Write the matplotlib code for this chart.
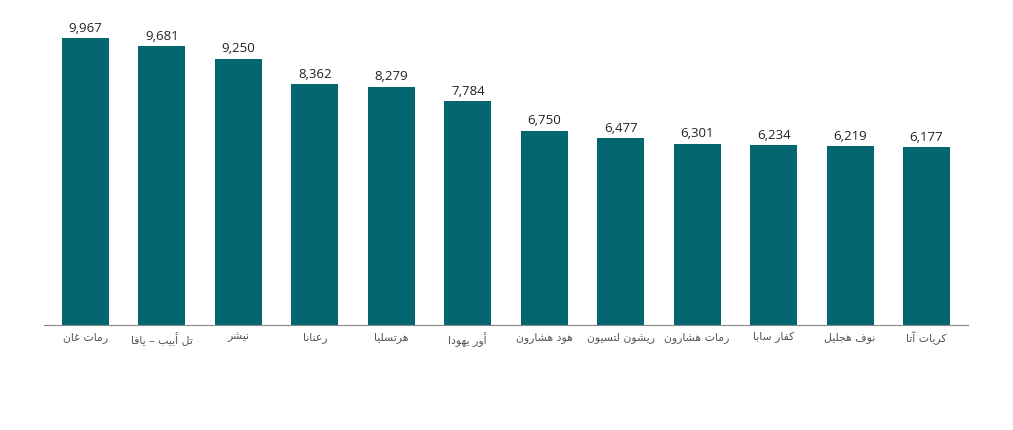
import matplotlib
matplotlib.use("Agg")
import matplotlib.pyplot as plt

# city names (logical order, Arabic)
cities = ["رمات غان", "تل أبيب – يافا", "نيشر", "رعنانا", "هرتسليا", "أور يهودا",
          "هود هشارون", "ريشون لتسيون", "رمات هشارون", "كفار سابا", "نوف هجليل", "كريات آتا"]
values = [9967, 9681, 9250, 8362, 8279, 7784, 6750, 6477, 6301, 6234, 6219, 6177]

# presentation forms: isolated, final, initial, medial (None = right-joining only)
FORMS = {
    "ا": (0xFE8D, 0xFE8E, None, None), "أ": (0xFE83, 0xFE84, None, None),
    "آ": (0xFE81, 0xFE82, None, None), "ب": (0xFE8F, 0xFE90, 0xFE91, 0xFE92),
    "ة": (0xFE93, 0xFE94, None, None), "ت": (0xFE95, 0xFE96, 0xFE97, 0xFE98),
    "ث": (0xFE99, 0xFE9A, 0xFE9B, 0xFE9C), "ج": (0xFE9D, 0xFE9E, 0xFE9F, 0xFEA0),
    "ح": (0xFEA1, 0xFEA2, 0xFEA3, 0xFEA4), "خ": (0xFEA5, 0xFEA6, 0xFEA7, 0xFEA8),
    "د": (0xFEA9, 0xFEAA, None, None), "ذ": (0xFEAB, 0xFEAC, None, None),
    "ر": (0xFEAD, 0xFEAE, None, None), "ز": (0xFEAF, 0xFEB0, None, None),
    "س": (0xFEB1, 0xFEB2, 0xFEB3, 0xFEB4), "ش": (0xFEB5, 0xFEB6, 0xFEB7, 0xFEB8),
    "ص": (0xFEB9, 0xFEBA, 0xFEBB, 0xFEBC), "ض": (0xFEBD, 0xFEBE, 0xFEBF, 0xFEC0),
    "ط": (0xFEC1, 0xFEC2, 0xFEC3, 0xFEC4), "ظ": (0xFEC5, 0xFEC6, 0xFEC7, 0xFEC8),
    "ع": (0xFEC9, 0xFECA, 0xFECB, 0xFECC), "غ": (0xFECD, 0xFECE, 0xFECF, 0xFED0),
    "ف": (0xFED1, 0xFED2, 0xFED3, 0xFED4), "ق": (0xFED5, 0xFED6, 0xFED7, 0xFED8),
    "ك": (0xFED9, 0xFEDA, 0xFEDB, 0xFEDC), "ل": (0xFEDD, 0xFEDE, 0xFEDF, 0xFEE0),
    "م": (0xFEE1, 0xFEE2, 0xFEE3, 0xFEE4), "ن": (0xFEE5, 0xFEE6, 0xFEE7, 0xFEE8),
    "ه": (0xFEE9, 0xFEEA, 0xFEEB, 0xFEEC), "و": (0xFEED, 0xFEEE, None, None),
    "ى": (0xFEEF, 0xFEF0, None, None), "ي": (0xFEF1, 0xFEF2, 0xFEF3, 0xFEF4),
}


def shape(text):
    # crude arabic shaping + reversal to visual order
    out = []
    n = len(text)
    for i, ch in enumerate(text):
        if ch not in FORMS:
            out.append(ch)
            continue
        prev = text[i - 1] if i > 0 else None
        nxt = text[i + 1] if i < n - 1 else None
        joins_prev = prev in FORMS and FORMS[prev][2] is not None
        joins_next = nxt in FORMS and FORMS[ch][2] is not None
        iso, fin, ini, med = FORMS[ch]
        if joins_prev and joins_next:
            out.append(chr(med))
        elif joins_prev:
            out.append(chr(fin))
        elif joins_next:
            out.append(chr(ini))
        else:
            out.append(chr(iso))
    return "".join(out)[::-1]


fig = plt.figure(figsize=(10.13, 4.31), dpi=100)
ax = fig.add_axes([44 / 1013, 105 / 431, 924 / 1013, 288 / 431])

x = list(range(len(values)))
ax.bar(x, values, width=0.615, color="#036671")
for xi, v in zip(x, values):
    ax.text(xi, v + 150, f"{v:,}", ha="center", va="bottom", fontsize=9.5,
            family="Open Sans", color="#222222", clip_on=False)

ax.set_xlim(-0.543, len(values) - 1 + 0.543)
ax.set_ylim(0, 10000)
ax.set_xticks(x)
ax.set_xticklabels([shape(c) for c in cities], family="DejaVu Sans",
                   fontsize=7.8, color="#555555")
ax.tick_params(axis="x", length=0, pad=4)
ax.set_yticks([])
for s in ["top", "right", "left"]:
    ax.spines[s].set_visible(False)
ax.spines["bottom"].set_color("#888888")
ax.spines["bottom"].set_linewidth(0.8)

fig.savefig("out.png", dpi=100)
